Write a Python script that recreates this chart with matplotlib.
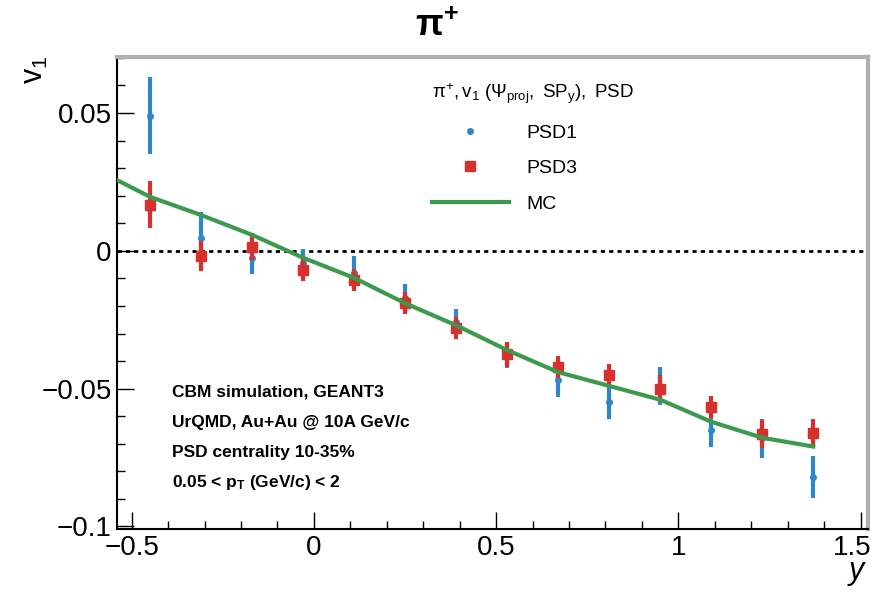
import numpy as np
import matplotlib
matplotlib.use("Agg")
import matplotlib.pyplot as plt
import matplotlib.transforms as mtransforms
from matplotlib.ticker import MultipleLocator

plt.rcParams['font.family'] = ['Liberation Sans', 'DejaVu Sans']
plt.rcParams['mathtext.fontset'] = 'custom'
plt.rcParams['mathtext.rm'] = 'Liberation Sans'
plt.rcParams['mathtext.it'] = 'Liberation Sans:italic'
plt.rcParams['mathtext.bf'] = 'Liberation Sans:bold'

# rapidity bins
y_bins = [-0.45, -0.31, -0.17, -0.03, 0.11, 0.25, 0.39, 0.53, 0.67, 0.81,
          0.95, 1.09, 1.23, 1.37]

# PSD1 (blue)
v1_psd1 = [0.0490, 0.0047, -0.0025, -0.0045, -0.0080, -0.0170, -0.0260,
           -0.0380, -0.0470, -0.0550, -0.0490, -0.0650, -0.0680, -0.0820]
err_psd1 = [0.0140, 0.0095, 0.0060, 0.0050, 0.0060, 0.0050, 0.0050,
            0.0045, 0.0060, 0.0060, 0.0070, 0.0060, 0.0070, 0.0075]

# PSD3 (red)
v1_psd3 = [0.0167, -0.0020, 0.0015, -0.0070, -0.0105, -0.0190, -0.0280,
           -0.0375, -0.0420, -0.0450, -0.0500, -0.0565, -0.0665, -0.0660]
err_psd3 = [0.0085, 0.0055, 0.0050, 0.0040, 0.0040, 0.0040, 0.0040,
            0.0045, 0.0040, 0.0040, 0.0050, 0.0040, 0.0050, 0.0050]

# MC reference
y_mc = [-0.59, -0.45, -0.31, -0.17, -0.03, 0.11, 0.25, 0.39, 0.53, 0.67,
        0.81, 0.95, 1.09, 1.23, 1.37]
v1_mc = [0.0290, 0.0196, 0.0130, 0.0058, -0.0025, -0.0098, -0.0190,
         -0.0270, -0.0360, -0.0440, -0.0490, -0.0540, -0.0620, -0.0678,
         -0.0710]

c_blue = '#2f86c8'
c_red = '#d8302c'
c_green = '#3c9a4e'

fig = plt.figure(figsize=(8.74, 5.94), dpi=100)
ax = fig.add_axes([0.134, 0.109, 0.859, 0.795])

ax.axhline(0, color='black', ls=(0, (1.5, 1.5)), lw=2, zorder=1)

eb1 = ax.errorbar(y_bins, v1_psd1, yerr=err_psd1, fmt='o', color=c_blue,
                  ms=4, elinewidth=3, capsize=0, zorder=2)
eb3 = ax.errorbar(y_bins, v1_psd3, yerr=err_psd3, fmt='s', color=c_red,
                  ms=6.5, elinewidth=3, capsize=0, zorder=3)
mc_line, = ax.plot(y_mc, v1_mc, color=c_green, lw=3, zorder=4)

ax.set_xlim(-0.54, 1.52)
ax.set_ylim(-0.101, 0.0703)

ax.xaxis.set_minor_locator(MultipleLocator(0.1))
ax.yaxis.set_minor_locator(MultipleLocator(0.01))
ax.set_xticks([-0.5, 0, 0.5, 1, 1.5])
ax.set_xticklabels(['\u22120.5', '0', '0.5', '1', '1.5'])
ax.set_yticks([-0.1, -0.05, 0, 0.05])
ax.set_yticklabels(['\u22120.1', '\u22120.05', '0', '0.05'])
ax.tick_params(which='major', direction='in', length=12, width=1,
               labelsize=20, pad=4)
ax.tick_params(which='minor', direction='in', length=6, width=1)

# keep the last x label inside the canvas, like the original
last = ax.get_xticklabels()[-1]
last.set_transform(last.get_transform() +
                   mtransforms.ScaledTranslation(-8 / 100, 0,
                                                 fig.dpi_scale_trans))

for s in ['top', 'right']:
    ax.spines[s].set_color('#b0b0b0')
    ax.spines[s].set_linewidth(3)
for s in ['left', 'bottom']:
    ax.spines[s].set_linewidth(1.5)

ax.set_xlabel(r'$y$', fontsize=22, loc='right', labelpad=-2)
fig.text(0.040, 0.883, r'$\mathregular{v_1}$', fontsize=22, rotation=90,
         ha='center', va='center')

fig.text(0.5, 0.955, r'$\mathbf{\pi^{+}}$', fontsize=26, ha='center',
         va='center')

leg = ax.legend([eb1[0], eb3[0], mc_line], ['PSD1', 'PSD3', 'MC'],
                loc='upper left', bbox_to_anchor=(0.402, 0.976),
                frameon=False, fontsize=14, handlelength=4.0,
                handletextpad=0.9, labelspacing=0.93, borderpad=0.15,
                title=r'$\mathregular{\pi^{+}, v_1\ (\Psi_{proj},\ SP_y),\ PSD}$',
                title_fontsize=13.5)
leg._legend_box.align = 'left'

info = ['CBM simulation, GEANT3',
        'UrQMD, Au+Au @ 10A GeV/c',
        'PSD centrality 10-35%',
        r'0.05 < $\mathbf{p_T}$ (GeV/c) < 2']
for i, line in enumerate(info):
    fig.text(0.197, 0.34 - i * 0.051, line, fontsize=12.5, fontweight='bold',
             va='center')

fig.savefig('out.png', dpi=100, facecolor='white')
